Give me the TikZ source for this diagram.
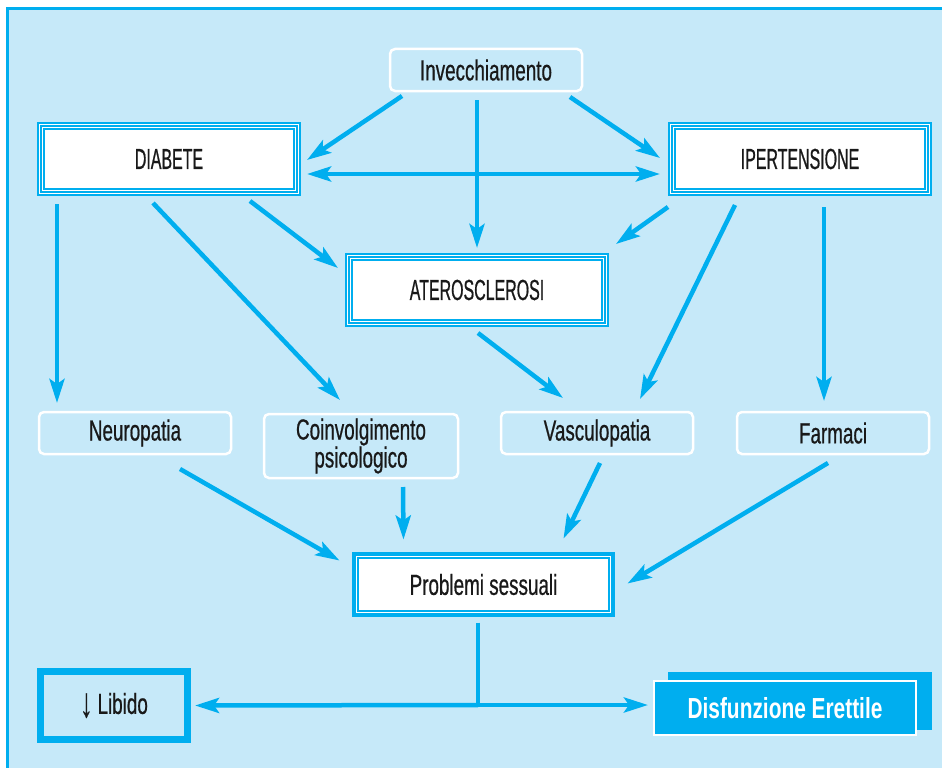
\documentclass[tikz,border=0pt]{standalone}
\usepackage{fontspec}
\setmainfont{Liberation Sans}[FakeStretch=0.65, FakeBold=0.6]
\newfontfamily\capfont{Liberation Sans}[FakeStretch=0.55, FakeBold=0.6]
\newfontfamily\arrfont{Liberation Sans}[FakeStretch=0.6, FakeBold=0.3]
\newfontfamily\disfont{Liberation Sans Bold}[FakeStretch=0.72]
\usetikzlibrary{arrows.meta,calc}
\definecolor{ablue}{RGB}{0,174,239}
\definecolor{bgblue}{RGB}{198,233,249}
\definecolor{txt}{RGB}{25,25,25}
\begin{document}
\begin{tikzpicture}[x=1pt,y=-1pt,
  every node/.style={font=\fontsize{29}{28}\selectfont, text=txt, inner sep=0pt, align=center},
  arr/.style={draw=ablue, line width=4.5pt, -{Stealth[length=24pt,width=15pt,inset=5pt]}},
  arrs/.style={draw=ablue, line width=4.5pt, {Stealth[length=24pt,width=15pt,inset=5pt]}-{Stealth[length=24pt,width=15pt,inset=5pt]}},
  tribox/.style={minimum width=256pt, minimum height=66pt, font=\fontsize{29}{28}\capfont,
    preaction={fill=white},
    preaction={draw=ablue,line width=8pt},
    preaction={draw=white,line width=4pt},
    draw=ablue, line width=2pt},
  rbox/.style={draw=white, line width=2.5pt, rounded corners=5pt, fill=bgblue,
    minimum width=192pt, minimum height=42pt},
  probbox/.style={draw=ablue, line width=4pt, fill=white,
    minimum width=259pt, minimum height=61pt,
    path picture={\draw[ablue,line width=1.2pt]
      ([shift={(4pt,-4pt)}]path picture bounding box.north west) rectangle
      ([shift={(-4pt,4pt)}]path picture bounding box.south east);}},
  libbox/.style={draw=ablue, line width=7pt, fill=bgblue,
    minimum width=147pt, minimum height=68pt},
]
\useasboundingbox (0,0) rectangle (942,768);
\fill[white] (0,0) rectangle (942,768);
\fill[bgblue] (6,7) rectangle (942,768);
\draw[ablue,line width=3pt] (7.5,768) -- (7.5,8.5) -- (942,8.5);

% nodes
\node[rbox] (inv) at (486,70) {Invecchiamento};
\node[tribox] (diab) at (169,159) {DIABETE};
\node[tribox] (ipert) at (800,159) {IPERTENSIONE};
\node[tribox] (ath) at (477,290) {ATEROSCLEROSI};
\node[rbox] (neuro) at (135,433) {Neuropatia};
\node[rbox, minimum width=194pt, minimum height=64pt] (coinv) at (361,446) {Coinvolgimento\\psicologico};
\node[rbox] (vasc) at (597,433) {Vasculopatia};
\node[rbox] (farm) at (833,433) {Farmaci};
\node[probbox] (prob) at (483.5,584.5) {Problemi sessuali};
\node[libbox] (lib) at (114,705.5) {\raisebox{-3pt}{\fontsize{42}{42}\arrfont ↓}\,Libido};
\node[fill=ablue, minimum width=264pt, minimum height=58pt] (disback) at (800,701) {};
\node[fill=ablue, draw=white, line width=2pt, minimum width=262pt, minimum height=54pt,
  text=white, font=\fontsize{29}{28}\disfont] (dis) at (785,708) {Disfunzione Erettile};

% connectors
\draw[arr] ([shift={(-84,26)}]inv.center) -- ([shift={(138,1)}]diab.center);
\draw[arr] ([shift={(-9,30)}]inv.center) -- ([shift={(0,-42)}]ath.center);
\draw[arr] ([shift={(84,27)}]inv.center) -- ([shift={(-140,-1)}]ipert.center);
\draw[arrs] ([shift={(138,15)}]diab.center) -- ([shift={(-140,15)}]ipert.center);
\draw[arr] ([shift={(-132,48)}]ipert.center) -- ([shift={(139,-46)}]ath.center);
\draw[arr] ([shift={(81,42)}]diab.center) -- ([shift={(-139,-22)}]ath.center);
\draw[arr] ([shift={(-112,45)}]diab.center) -- ([shift={(-78,-30)}]neuro.center);
\draw[arr] ([shift={(-16,44)}]diab.center) -- ([shift={(-21,-46)}]coinv.center);
\draw[arr] ([shift={(1,43)}]ath.center) -- ([shift={(-34,-35)}]vasc.center);
\draw[arr] ([shift={(-65,46)}]ipert.center) -- ([shift={(43,-34)}]vasc.center);
\draw[arr] ([shift={(24,48)}]ipert.center) -- ([shift={(-9,-32)}]farm.center);
\draw[arr] ([shift={(45,36)}]neuro.center) -- ([shift={(-144,-24)}]prob.center);
\draw[arr] ([shift={(42,41)}]coinv.center) -- ([shift={(-80,-45)}]prob.center);
\draw[arr] ([shift={(3,30)}]vasc.center) -- ([shift={(80,-46)}]prob.center);
\draw[arr] ([shift={(-5,30)}]farm.center) -- ([shift={(144,-1)}]prob.center);
\coordinate (junc) at ([shift={(-5.5,120.5)}]prob.center);
\draw[ablue, line width=4.5pt] ([shift={(-5.5,38)}]prob.center) -- (junc);
\draw[arr] (junc) -- ([shift={(81,0)}]lib.center);
\draw[arr] (junc) -- ([shift={(-137,-3)}]dis.center);
\end{tikzpicture}
\end{document}
